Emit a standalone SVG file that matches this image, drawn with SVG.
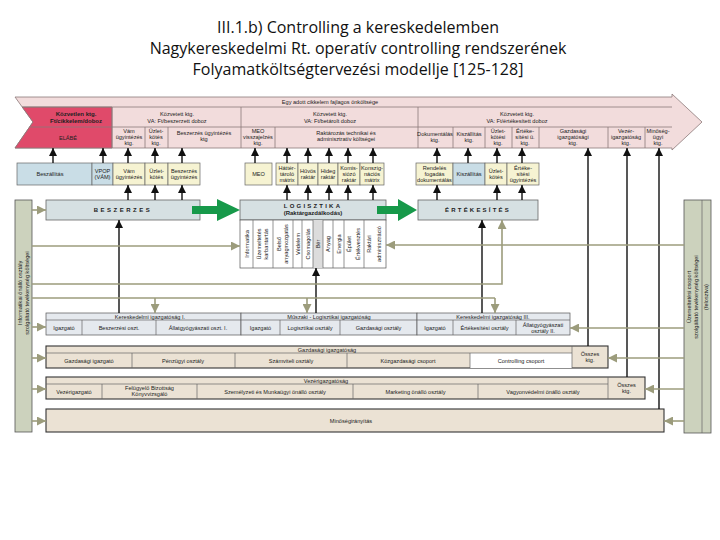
<svg xmlns="http://www.w3.org/2000/svg" width="720" height="540" viewBox="0 0 720 540">
<style>
.ttl{font-family:"Open Sans","Liberation Sans",sans-serif;font-size:16px;fill:#111;text-anchor:middle}
.t{font-family:"Liberation Sans",Arial,sans-serif;font-size:5.6px;fill:#222;text-anchor:middle}
.tb{font-family:"Liberation Sans",Arial,sans-serif;font-size:6px;font-weight:bold;fill:#222;text-anchor:middle}
.ch{fill:#f2dcdc;stroke:#8c7878;stroke-width:0.8}
.sep{stroke:#8c7878;stroke-width:0.8;fill:none}
.red{fill:#e04a6a;stroke:#8c7878;stroke-width:0.8}
.blue{fill:#c9dde6;stroke:#666;stroke-width:0.7}
.yel{fill:#f6f3d2;stroke:#666;stroke-width:0.7}
.proc{fill:#d6e0e2;stroke:#666;stroke-width:0.8}
.col{fill:#fff;stroke:#555;stroke-width:0.7}
.bar{fill:#ccd2bd;stroke:#555;stroke-width:0.8}
.cell{fill:#e5e9ee;stroke:#555;stroke-width:0.7}
.row{fill:#ebe2d4;stroke:#333;stroke-width:1.1}
.rs{stroke:#666;stroke-width:0.7;fill:none}
.bk{stroke:#111;stroke-width:1.4;fill:none}
.ol{stroke:#9c9c7c;stroke-width:1.6;fill:none}
.gr{fill:#17994a}
</style>
<defs>
<marker id="ab" viewBox="0 0 8 8" refX="8" refY="4" markerWidth="8" markerHeight="8" markerUnits="userSpaceOnUse" orient="auto"><path d="M0,0 L8,4 L0,8 Z" fill="#111"/></marker>
<marker id="ao" viewBox="0 0 8 8" refX="8" refY="4" markerWidth="9" markerHeight="9" markerUnits="userSpaceOnUse" orient="auto"><path d="M0,0 L8,4 L0,8 Z" fill="#9c9c7c"/></marker>
</defs>

<g id="title">
<text class="ttl" x="358" y="33">III.1.b) Controlling a kereskedelemben</text>
<text class="ttl" x="358" y="54">Nagykereskedelmi Rt. operatív controlling rendszerének</text>
<text class="ttl" x="358" y="75">Folyamatköltségtervezési modellje [125-128]</text>
</g>

<g id="chevron">
<path class="ch" d="M15,97 L672,97 L672,94 L702,122 L672,150 L672,148 L15,148 L33,122 Z"/>
<path class="red" d="M22.2,107 L112,107 L112,148 L15,148 L33,122 Z"/>
<path class="sep" d="M22.2,107 H672 M29.5,127 H672 M112,107 V148 M241,107 V148 M418,107 V148 M145,127 V148 M168,127 V148 M275,127 V148 M453,127 V148 M485,127 V148 M512,127 V148 M539,127 V148 M608,127 V148 M645,127 V148"/>
<text class="t" x="330" y="104">Egy adott cikkelem fajlagos önköltsége</text>
<text class="tb" x="76" y="116">Közvetlen ktg.</text>
<text class="tb" x="76" y="123">Ft/cikkelem/doboz</text>
<text class="t" x="177" y="116">Közvetett ktg.</text>
<text class="t" x="177" y="123">VA: Ft/beszerzett doboz</text>
<text class="t" x="330" y="116">Közvetett ktg.</text>
<text class="t" x="330" y="123">VA: Ft/betárolt doboz</text>
<text class="t" x="517" y="116">Közvetett ktg.</text>
<text class="t" x="517" y="123">VA: Ft/értékesített doboz</text>
<text class="t" x="68" y="140">ELÁBÉ</text>
<text class="t" x="129" y="133">Vám</text><text class="t" x="129" y="139">ügyintézés</text><text class="t" x="129" y="145">ktg.</text>
<text class="t" x="156" y="133">Üzlet-</text><text class="t" x="156" y="139">kötés</text><text class="t" x="156" y="145">ktg.</text>
<text class="t" x="204" y="135">Beszerzés ügyintézés</text><text class="t" x="204" y="141">ktg</text>
<text class="t" x="258" y="133">MEO</text><text class="t" x="258" y="139">visszajelzés</text><text class="t" x="258" y="145">ktg.</text>
<text class="t" x="346" y="135">Raktározás technikai és</text><text class="t" x="346" y="141">adminisztratív költségei</text>
<text class="t" x="435" y="136">Dokumentálás</text><text class="t" x="435" y="142">ktg.</text>
<text class="t" x="469" y="136">Kiszállítás</text><text class="t" x="469" y="142">ktg.</text>
<text class="t" x="498" y="133">Üzlet-</text><text class="t" x="498" y="139">kötési</text><text class="t" x="498" y="145">ktg.</text>
<text class="t" x="525" y="133">Értéke-</text><text class="t" x="525" y="139">sítési ü.</text><text class="t" x="525" y="145">ktg.</text>
<text class="t" x="573" y="133">Gazdasági</text><text class="t" x="573" y="139">igazgatósági</text><text class="t" x="573" y="145">ktg.</text>
<text class="t" x="626" y="133">Vezér-</text><text class="t" x="626" y="139">igazgatóság</text><text class="t" x="626" y="145">ktg.</text>
<text class="t" x="658" y="133">Minőség-</text><text class="t" x="658" y="139">ügyi</text><text class="t" x="658" y="145">ktg.</text>
</g>

<g id="activities">
<rect class="blue" x="17" y="163" width="75" height="22"/>
<text class="t" x="50" y="176">Beszállítás</text>
<rect class="blue" x="92" y="163" width="21" height="22"/>
<text class="t" x="102.5" y="173">VPOP</text><text class="t" x="102.5" y="179">(VÁM)</text>
<rect class="yel" x="113" y="163" width="32" height="22"/>
<text class="t" x="129" y="173">Vám</text><text class="t" x="129" y="179">ügyintézés</text>
<rect class="yel" x="145" y="163" width="23" height="22"/>
<text class="t" x="156.5" y="173">Üzlet-</text><text class="t" x="156.5" y="179">kötés</text>
<rect class="yel" x="168" y="163" width="32" height="22"/>
<text class="t" x="184" y="173">Beszerzés</text><text class="t" x="184" y="179">ügyintézés</text>
<rect class="yel" x="245" y="163" width="27" height="22"/>
<text class="t" x="258.5" y="176">MEO</text>
<rect class="yel" x="276" y="163" width="22" height="22"/>
<text class="t" x="287" y="170">Háttér-</text><text class="t" x="287" y="176">tároló</text><text class="t" x="287" y="182">mátrix</text>
<rect class="yel" x="298" y="163" width="20" height="22"/>
<text class="t" x="308" y="173">Hűvös</text><text class="t" x="308" y="179">raktár</text>
<rect class="yel" x="318" y="163" width="20" height="22"/>
<text class="t" x="328" y="173">Hideg</text><text class="t" x="328" y="179">raktár</text>
<rect class="yel" x="338" y="163" width="22" height="22"/>
<text class="t" x="349" y="170">Komis-</text><text class="t" x="349" y="176">siózó</text><text class="t" x="349" y="182">raktár</text>
<rect class="yel" x="360" y="163" width="24" height="22"/>
<text class="t" x="372" y="170">Konszig-</text><text class="t" x="372" y="176">nációs</text><text class="t" x="372" y="182">mátrix</text>
<rect class="yel" x="416" y="163" width="37" height="22"/>
<text class="t" x="434.5" y="170">Rendelés</text><text class="t" x="434.5" y="176">fogadás</text><text class="t" x="434.5" y="182">dokumentálás</text>
<rect class="blue" x="453" y="163" width="32" height="22"/>
<text class="t" x="469" y="176">Kiszállítás</text>
<rect class="yel" x="485" y="163" width="22" height="22"/>
<text class="t" x="496" y="173">Üzlet-</text><text class="t" x="496" y="179">kötés</text>
<rect class="yel" x="507" y="163" width="32" height="22"/>
<text class="t" x="523" y="170">Értéke-</text><text class="t" x="523" y="176">sítési</text><text class="t" x="523" y="182">ügyintézés</text>
</g>

<g id="beszerzes">
<rect class="proc" x="46" y="200" width="154" height="20"/>
<text class="tb" x="123" y="212" letter-spacing="2.5">BESZERZES</text>
</g>
<g id="logisztika">
<rect class="proc" x="240" y="200" width="146" height="20"/>
<text class="tb" x="313" y="208" letter-spacing="2.2">LOGISZTIKA</text>
<text class="tb" x="313" y="215">(Raktárgazdálkodás)</text>
<rect class="col" x="240" y="220" width="146" height="48"/>
<rect x="313" y="220" width="10" height="48" fill="#dcdcdc"/>
<path class="rs" d="M253,220 V268 M273,220 V268 M293,220 V268 M302,220 V268 M313,220 V268 M323,220 V268 M333,220 V268 M344,220 V268 M364,220 V268"/>
<g class="t">
<text transform="translate(248.5,244) rotate(-90)">Informatika</text>
<text transform="translate(261,244) rotate(-90)">Üzemeltetés</text>
<text transform="translate(268,244) rotate(-90)">karbantartás</text>
<text transform="translate(281,244) rotate(-90)">Belső</text>
<text transform="translate(288,244) rotate(-90)">anyagmozgatás</text>
<text transform="translate(299.5,244) rotate(-90)">Védelem</text>
<text transform="translate(309.5,244) rotate(-90)">Csomagolás</text>
<text transform="translate(320,244) rotate(-90)">Bér</text>
<text transform="translate(330,244) rotate(-90)">Anyag</text>
<text transform="translate(340.5,244) rotate(-90)">Energia</text>
<text transform="translate(351,244) rotate(-90)">Épület</text>
<text transform="translate(360,244) rotate(-90)">Értékvesztés</text>
<text transform="translate(371,244) rotate(-90)">Raktári</text>
<text transform="translate(381,244) rotate(-90)">adminisztráció</text>
</g>
</g>
<g id="ertekesites">
<rect class="proc" x="418" y="200" width="120" height="20"/>
<text class="tb" x="478" y="212" letter-spacing="2.2">ÉRTÉKESÍTÉS</text>
</g>

<g id="leftbar">
<rect class="bar" x="15" y="200" width="17" height="232"/>
<text class="t" transform="translate(21.5,293) rotate(-90)">Informatikai önálló osztály</text>
<text class="t" transform="translate(28.5,293) rotate(-90)">szolgáltató tevékenység költségei</text>
</g>
<g id="rightbar">
<rect class="bar" x="684" y="200" width="27" height="233"/>
<line class="rs" x1="702" y1="200" x2="702" y2="433"/>
<text class="t" transform="translate(691,297) rotate(-90)">Üzemeltetési csoport</text>
<text class="t" transform="translate(698,297) rotate(-90)">szolgáltató tevékenység költségei</text>
<text class="t" transform="translate(708,297) rotate(-90)">(felosztva)</text>
</g>

<g id="ker1">
<rect class="cell" x="46" y="313" width="195" height="22"/>
<path class="rs" d="M46,320 H241 M82,320 V335 M156,320 V335"/>
<text class="t" x="150" y="318.5">Kereskedelmi igazgatóság I.</text>
<text class="t" x="64" y="329.5">Igazgató</text>
<text class="t" x="119" y="329.5">Beszerzési oszt.</text>
<text class="t" x="198" y="329.5">Állatgyógyászati oszt. I.</text>
</g>
<g id="muszaki">
<rect class="cell" x="241" y="313" width="176" height="22"/>
<path class="rs" d="M241,320 H417 M280,320 V335 M340,320 V335"/>
<text class="t" x="329" y="318.5">Műszaki - Logisztikai igazgatóság</text>
<text class="t" x="260.5" y="329.5">Igazgató</text>
<text class="t" x="310" y="329.5">Logisztikai osztály</text>
<text class="t" x="378.5" y="329.5">Gazdasági osztály</text>
</g>
<g id="ker3">
<rect class="cell" x="417" y="313" width="153" height="22"/>
<path class="rs" d="M417,320 H570 M453,320 V335 M516,320 V335"/>
<text class="t" x="493" y="318.5">Kereskedelmi igazgatóság III.</text>
<text class="t" x="435" y="329.5">Igazgató</text>
<text class="t" x="484.5" y="329.5">Értékesítési osztály</text>
<text class="t" x="543" y="326.5">Állatgyógyászati</text>
<text class="t" x="543" y="332.5">osztály II.</text>
</g>
<g id="gazdasagi">
<rect class="row" x="46" y="346" width="562" height="22"/>
<rect x="470" y="353" width="102" height="15" fill="#fff"/>
<path class="rs" d="M46,353 H572 M132,353 V368 M235,353 V368 M347,353 V368 M470,353 V368 M572,346 V368"/>
<text class="t" x="327" y="351.5">Gazdasági igazgatóság</text>
<text class="t" x="89" y="362.5">Gazdasági igazgató</text>
<text class="t" x="183" y="362.5">Pénzügyi osztály</text>
<text class="t" x="291" y="362.5">Számviteli osztály</text>
<text class="t" x="408" y="362.5">Közgazdasági csoport</text>
<text class="t" x="521" y="362.5">Controlling csoport</text>
<text class="t" x="590" y="356">Összes</text><text class="t" x="590" y="362">ktg.</text>
</g>
<g id="vezer">
<rect class="row" x="46" y="377" width="599" height="22"/>
<path class="rs" d="M46,384 H608 M102,384 V399 M197,384 V399 M353,384 V399 M478,384 V399 M608,377 V399"/>
<text class="t" x="326" y="382.5">Vezérigazgatóság</text>
<text class="t" x="74" y="393.5">Vezérigazgató</text>
<text class="t" x="149.5" y="390">Felügyelő Bizottság</text>
<text class="t" x="149.5" y="396">Könyvvizsgáló</text>
<text class="t" x="275" y="393.5">Személyzeti és Munkaügyi önálló osztály</text>
<text class="t" x="415.5" y="393.5">Marketing önálló osztály</text>
<text class="t" x="543" y="393.5">Vagyonvédelmi önálló osztály</text>
<text class="t" x="626.5" y="387">Összes</text><text class="t" x="626.5" y="393">ktg.</text>
</g>
<g id="minoseg">
<rect class="row" x="46" y="409" width="618" height="23"/>
<text class="t" x="351" y="422.5">Minőségirányítás</text>
</g>

<g id="connectors">
<path class="gr" d="M192,206 L217,206 L217,199 L240,210 L217,221 L217,214 L192,214 Z"/>
<path class="gr" d="M377,206 L398,206 L398,199 L417,210 L398,221 L398,214 L377,214 Z"/>
<g class="bk" marker-end="url(#ab)">
<line x1="53" y1="163" x2="53" y2="148"/>
<line x1="103" y1="163" x2="103" y2="148"/>
<line x1="128" y1="163" x2="128" y2="148"/>
<line x1="155" y1="163" x2="155" y2="148"/>
<line x1="182" y1="163" x2="182" y2="148"/>
<line x1="255" y1="163" x2="255" y2="148"/>
<line x1="287" y1="163" x2="287" y2="148"/>
<line x1="308" y1="163" x2="308" y2="148"/>
<line x1="329" y1="163" x2="329" y2="148"/>
<line x1="348" y1="163" x2="348" y2="148"/>
<line x1="373" y1="163" x2="373" y2="148"/>
<line x1="437" y1="163" x2="437" y2="148"/>
<line x1="468" y1="163" x2="468" y2="148"/>
<line x1="497" y1="163" x2="497" y2="148"/>
<line x1="522" y1="163" x2="522" y2="148"/>
<line x1="128" y1="200" x2="128" y2="185"/>
<line x1="155" y1="200" x2="155" y2="185"/>
<line x1="182" y1="200" x2="182" y2="185"/>
<line x1="287" y1="200" x2="287" y2="185"/>
<line x1="308" y1="200" x2="308" y2="185"/>
<line x1="329" y1="200" x2="329" y2="185"/>
<line x1="348" y1="200" x2="348" y2="185"/>
<line x1="373" y1="200" x2="373" y2="185"/>
<line x1="437" y1="200" x2="437" y2="185"/>
<line x1="497" y1="200" x2="497" y2="185"/>
<line x1="522" y1="200" x2="522" y2="185"/>
<line x1="588" y1="346" x2="588" y2="148"/>
<line x1="627" y1="377" x2="627" y2="148"/>
<line x1="659" y1="409" x2="659" y2="148"/>
<line x1="119" y1="313" x2="119" y2="220"/>
<line x1="316" y1="313" x2="316" y2="268"/>
<line x1="482" y1="313" x2="482" y2="220"/>
</g>
<path class="ol" d="M32,298 H495"/>
<g class="ol" marker-end="url(#ao)">
<line x1="32" y1="210" x2="46" y2="210"/>
<line x1="32" y1="246" x2="240" y2="246"/>
<polyline points="32,284 502,284 502,220"/>
<line x1="155" y1="298" x2="155" y2="313"/>
<line x1="307" y1="298" x2="307" y2="313"/>
<line x1="495" y1="298" x2="495" y2="313"/>
<line x1="684" y1="245" x2="386" y2="245"/>
<line x1="32" y1="327" x2="46" y2="327"/>
<line x1="32" y1="358" x2="46" y2="358"/>
<line x1="32" y1="389" x2="46" y2="389"/>
<line x1="32" y1="421" x2="46" y2="421"/>
<line x1="684" y1="328" x2="570" y2="328"/>
<line x1="684" y1="358" x2="608" y2="358"/>
<line x1="684" y1="389" x2="645" y2="389"/>
<line x1="684" y1="421" x2="664" y2="421"/>
</g>
</g>
</svg>
